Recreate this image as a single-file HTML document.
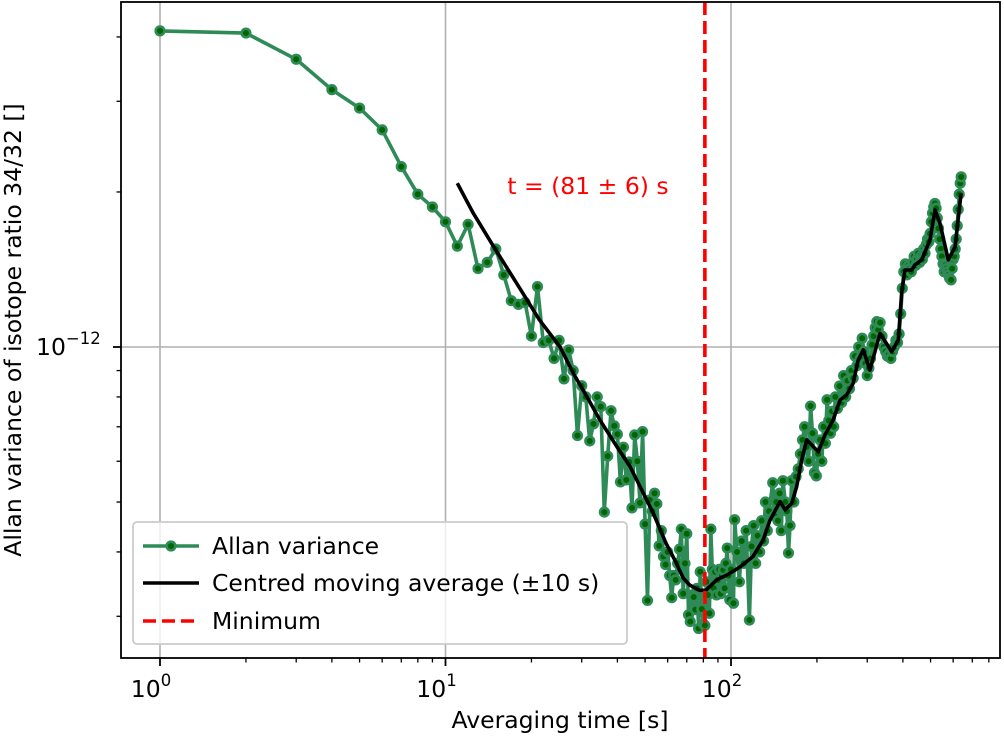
<!DOCTYPE html>
<html><head><meta charset="utf-8"><style>
body{margin:0;background:#fff;}
svg text{font-family:"DejaVu Sans","Liberation Sans",sans-serif;}
</style></head><body>
<svg id="chart" width="1004" height="735" viewBox="0 0 1004 735" xmlns="http://www.w3.org/2000/svg">
<g id="grid"></g>
<g id="series"></g>
<g id="axes"></g>
</svg>
<script>
const tauData=[1,2,3,4,5,6,7,8,9,10,11,12,13,14,15,16,17,18,19,20,21,22,23,24,25,26,27,28,29,30,31,32,33,34,35,36,37,38,39,40,41,42,43,44,45,46,47,48,49,50,51,52,53,54,55,56,57,58,59,60,61,62,63,64,65,66,67,68,69,70,71,72,73,74,75,76,77,78,79,80,81,82,83,84,85,86,87,88,89,90,91,92,93,94,95,96,97,98,99,100,102,103,105,107,109,111,113,116,118,120,122,124,126,128,130,132,134,136,140,142,144,146,148,150,152,155,157,159,161,163,166,169,172,175,178,181,184,187,190,193,196,199,202,205,208,211,214,217,220,223,226,229,232,236,240,244,248,252,256,260,264,268,272,276,280,284,288,292,296,300,304,308,312,316,320,324,328,333,338,343,348,353,358,363,368,373,378,383,388,393,398,403,408,413,418,423,428,433,438,443,448,453,458,463,468,473,478,483,488,493,498,503,508,513,518,523,528,533,538,543,548,553,558,563,568,573,578,583,590,595,600,605,610,615,620,625,630,635,640];
const allanData=[4.11,4.07,3.62,3.16,2.91,2.64,2.24,1.98,1.87,1.75,1.57,1.73,1.42,1.46,1.55,1.38,1.23,1.21,1.22,1.05,1.31,1.02,1.03,0.95,1.03,0.867,0.987,0.90,0.673,0.841,0.80,0.657,0.709,0.80,0.766,0.478,0.614,0.752,0.703,0.677,0.547,0.639,0.552,0.598,0.487,0.675,0.60,0.498,0.685,0.453,0.322,0.505,0.48,0.520,0.496,0.411,0.44,0.392,0.378,0.40,0.36,0.326,0.36,0.353,0.38,0.405,0.443,0.332,0.38,0.434,0.302,0.293,0.33,0.327,0.309,0.34,0.284,0.366,0.31,0.29,0.288,0.35,0.33,0.304,0.443,0.37,0.34,0.366,0.33,0.353,0.37,0.332,0.36,0.369,0.34,0.38,0.407,0.36,0.323,0.37,0.318,0.462,0.40,0.35,0.42,0.38,0.44,0.295,0.41,0.45,0.38,0.43,0.40,0.46,0.42,0.50,0.44,0.48,0.545,0.47,0.50,0.46,0.52,0.44,0.55,0.50,0.48,0.398,0.45,0.55,0.50,0.56,0.58,0.62,0.66,0.70,0.64,0.60,0.768,0.68,0.57,0.562,0.62,0.66,0.60,0.70,0.65,0.79,0.72,0.68,0.75,0.70,0.80,0.76,0.84,0.78,0.88,0.80,0.86,0.83,0.90,0.87,0.96,0.92,1.00,0.95,1.04,0.98,0.93,0.88,0.91,0.95,1.01,1.05,1.09,1.12,1.08,1.115,1.05,1.00,0.98,0.96,0.97,0.95,0.98,1.00,1.03,1.02,1.06,1.16,1.30,1.40,1.45,1.38,1.44,1.42,1.40,1.46,1.50,1.44,1.48,1.52,1.46,1.50,1.48,1.55,1.52,1.58,1.62,1.60,1.66,1.75,1.82,1.87,1.90,1.86,1.78,1.70,1.62,1.55,1.50,1.45,1.40,1.44,1.42,1.40,1.38,1.36,1.35,1.42,1.48,1.50,1.55,1.62,1.72,1.85,1.98,2.08,2.14];
const maTau=[11,12.5,14.7,18.2,21.3,25.2,28,31.3,34.7,39.8,44.3,48,53.4,59.2,63.5,68,71.6,77.5,81.7,89,97,107.5,119.4,129.5,137,148.6,154.7,163.2,169.8,176.9,184.1,202.2,213.4,228,241,254,268,279,290.7,306.6,332.5,365.5,385.5,396,406.6,429.5,440.8,465.5,497.6,518.3,539.5,576.9,609.3,639.5];
const maValues=[2.08,1.82,1.57,1.30,1.13,1.00,0.89,0.80,0.722,0.641,0.586,0.536,0.476,0.416,0.386,0.356,0.345,0.337,0.337,0.353,0.361,0.374,0.392,0.422,0.461,0.501,0.483,0.497,0.535,0.603,0.660,0.626,0.675,0.722,0.789,0.807,0.850,0.944,0.987,0.902,1.063,0.979,1.032,1.271,1.411,1.411,1.443,1.476,1.614,1.845,1.738,1.476,1.566,1.988];
const minTau=81;
const xTickLabels=["0","1","2"];
const yTickLabel="−12";

const L=121,R=1000,T=2,B=658;
const X=t=>160+285.5*Math.log10(t);
const Y=v=>347-515*Math.log10(v);  // v in units of 1e-12
const NS="http://www.w3.org/2000/svg";
function mk(tag,attrs,parent){const e=document.createElementNS(NS,tag);for(const k in attrs)e.setAttribute(k,attrs[k]);parent.appendChild(e);return e;}
const svg=document.getElementById('chart');
const grid=document.getElementById('grid'),ser=document.getElementById('series'),ax=document.getElementById('axes');

[1,10,100].forEach(t=>{const g=mk('line',{x1:X(t),x2:X(t),y1:T,y2:B,stroke:'#b0b0b0','stroke-width':1.6},grid);

});
{const g=mk('line',{x1:L,x2:R,y1:Y(1),y2:Y(1),stroke:'#b0b0b0','stroke-width':1.6},grid);

}

const defs=mk('defs',{},svg);const cp=mk('clipPath',{id:'clip'},defs);mk('rect',{x:L,y:T,width:R-L,height:B-T},cp);
ser.setAttribute('clip-path','url(#clip)');

const pts=tauData.map((t,i)=>X(t).toFixed(1)+','+Y(allanData[i]).toFixed(1)).join(' ');
const al=mk('polyline',{points:pts,fill:'none',stroke:'#2e8b57','stroke-width':3.6,'stroke-linejoin':'round'},ser);


tauData.forEach((t,i)=>{const c=mk('circle',{cx:X(t),cy:Y(allanData[i]),r:4.3,fill:'#006400',stroke:'#2e8b57','stroke-width':2.6},ser);

});
const mp=maTau.map((t,i)=>X(t).toFixed(1)+','+Y(maValues[i]).toFixed(1)).join(' ');
const ma=mk('polyline',{points:mp,fill:'none',stroke:'#000','stroke-width':3.6,'stroke-linejoin':'round'},ser);


const mn=mk('line',{x1:X(minTau),x2:X(minTau),y1:T,y2:B,stroke:'#ff0000','stroke-width':3.6,'stroke-dasharray':'13,6'},ser);


const ann=mk('text',{x:588,y:194,'font-size':23.5,fill:'#ff0000','text-anchor':'middle'},ax);ann.textContent='t = (81 ± 6) s';



const fr=mk('rect',{x:L,y:T,width:R-L,height:B-T,fill:'none',stroke:'#000','stroke-width':1.8},ax);


for(let d=0;d<3;d++){for(let m=1;m<10;m++){const t=m*Math.pow(10,d);const x=X(t);if(x>R)continue;
mk('line',{x1:x,x2:x,y1:B,y2:B+(m==1?8:4.5),stroke:'#000','stroke-width':m==1?1.8:1.3},ax);}}
xTickLabels.forEach((s,i)=>{const tx=mk('text',{x:X(Math.pow(10,i))-9,y:697,'font-size':23.5,'text-anchor':'middle'},ax);
tx.innerHTML='10<tspan font-size="16.5" dy="-11">'+s+'</tspan>';

});
for(let m=2;m<=9;m++){[m/10,m].forEach(v=>{const y=Y(v);if(y<T||y>B)return;mk('line',{x1:L,x2:L-4.5,y1:y,y2:y,stroke:'#000','stroke-width':1.3},ax);});}
mk('line',{x1:L,x2:L-8,y1:Y(1),y2:Y(1),stroke:'#000','stroke-width':1.8},ax);
{const ty=mk('text',{x:36,y:Y(1)+8,'font-size':23.5},ax);ty.innerHTML='10<tspan font-size="16.5" dy="-11">'+yTickLabel+'</tspan>';

}
const xt=mk('text',{x:560,y:728,'font-size':23.5,'text-anchor':'middle'},ax);xt.textContent='Averaging time [s]';


const yt=mk('text',{x:0,y:0,'font-size':23.5,'text-anchor':'middle',transform:'translate(21,330) rotate(-90)'},ax);yt.textContent='Allan variance of isotope ratio 34/32 []';



const lg=mk('g',{},ax);


mk('rect',{x:133,y:522,width:494,height:122,rx:4,fill:'#fff','fill-opacity':0.8,stroke:'#cccccc','stroke-width':1.8},lg);
mk('line',{x1:143,x2:199,y1:546,y2:546,stroke:'#2e8b57','stroke-width':3.6},lg);
mk('circle',{cx:171,cy:546,r:4.3,fill:'#006400',stroke:'#2e8b57','stroke-width':2.6},lg);
mk('line',{x1:143,x2:199,y1:583,y2:583,stroke:'#000','stroke-width':3.6},lg);
mk('line',{x1:143,x2:199,y1:621,y2:621,stroke:'#ff0000','stroke-width':3.6,'stroke-dasharray':'13,6'},lg);
[['Allan variance',554,'legend-entry-allan'],['Centred moving average (±10 s)',591,'legend-entry-moving-average'],['Minimum',629,'legend-entry-minimum']].forEach(a=>{
const t=mk('text',{x:212,y:a[1],'font-size':23.5},lg);t.textContent=a[0];

});
</script>
</body></html>
